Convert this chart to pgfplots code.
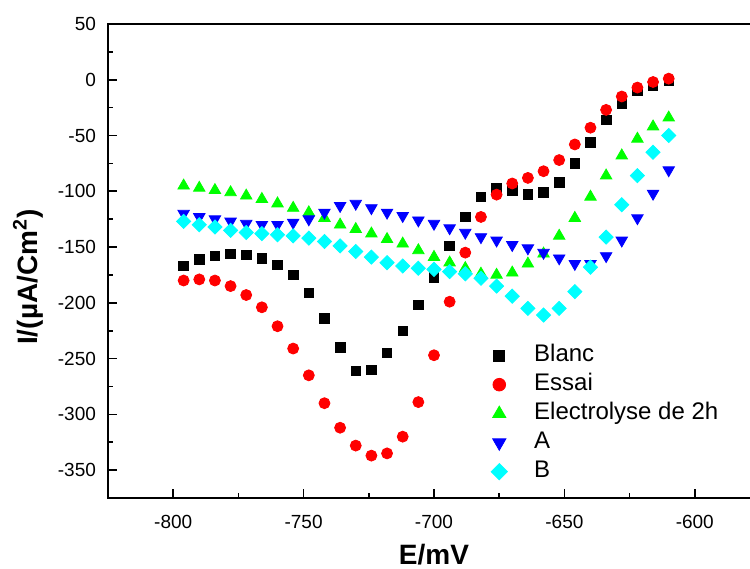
\documentclass[border=0pt]{standalone}
\usepackage{fontspec}
\setmainfont{Liberation Sans}
\usepackage{pgfplots}
\usepackage{pgfplotstable}
\pgfplotsset{compat=1.18}

\definecolor{cBlanc}{RGB}{0,0,0}
\definecolor{cEssai}{RGB}{255,0,0}
\definecolor{cElec}{RGB}{0,255,0}
\definecolor{cA}{RGB}{0,0,255}
\definecolor{cB}{RGB}{0,255,255}

% E (mV) vs I (uA/cm2)
\pgfplotstableread{
E     blanc essai elec  A     B
-796  -167  -180  -95   -120  -127
-790  -161  -179  -97   -123  -130
-784  -158  -180  -99   -125  -132
-778  -156  -185  -101  -127  -135
-772  -157  -193  -104  -129  -137
-766  -160  -204  -107  -130  -138
-760  -166  -221  -111  -130  -139
-754  -175  -241  -115  -128  -140
-748  -191  -265  -119  -125  -142
-742  -214  -290  -124  -119  -145
-736  -240  -312  -130  -113  -149
-730  -261  -328  -134  -111  -154
-724  -260  -337  -138  -115  -159
-718  -245  -335  -143  -119  -164
-712  -225  -320  -147  -122  -167
-706  -202  -289  -153  -126  -169
-700  -177  -247  -159  -129  -170
-694  -149  -199  -164  -133  -172
-688  -123  -155  -169  -137  -174
-682  -105  -123  -174  -141  -178
-676  -97   -103  -175  -144  -185
-670  -99   -93   -173  -148  -194
-664  -103  -88   -165  -151  -205
-658  -101  -82   -156  -155  -211
-652  -92   -72   -140  -160  -205
-646  -75   -58   -124  -165  -190
-640  -56   -43   -105  -165  -168
-634  -36   -27   -86   -158  -141
-628  -21   -15   -68   -144  -112
-622  -10   -7    -53   -124  -86
-616  -5    -2    -42   -102  -65
-610  -1    1     -34   -81   -50
}\polar

\begin{document}
\begin{tikzpicture}
\begin{axis}[
    at={(0,0)}, anchor=south west,
    scale only axis, width=326pt, height=237pt,
    xmin=-825, xmax=-575, ymin=-375, ymax=50,
    xtick={-800,-750,...,-600}, ytick={-350,-300,...,50},
    minor x tick num=1, minor y tick num=1,
    tick align=inside, tick pos=left,
    major tick length=4.5pt, minor tick length=2.5pt,
    axis line style={line width=0.9pt},
    every tick/.style={black, line width=0.8pt},
    /pgf/number format/assume math mode=true,
    ticklabel style={font=\fontsize{9.5}{10}\selectfont},
    xticklabel style={yshift=-5pt},
    yticklabel style={xshift=-2.5pt},
    xlabel={E/mV},
    ylabel={I/(µA/Cm\textsuperscript{2})},
    label style={font=\fontsize{14}{16}\selectfont\bfseries},
    xlabel style={at={(axis description cs:0.5,-0.1203)}, anchor=center},
    ylabel style={at={(axis description cs:-0.1227,0.466)}, anchor=center},
    legend style={draw=none, fill=none, inner sep=0pt,
      at={(0.5805,0.3317)}, anchor=north west,
      font=\fontsize{12}{13}\selectfont,
      nodes={text height=8.5pt, text depth=2.5pt, inner sep=1.75pt}},
    legend cell align=left,
    legend image code/.code={%
      \path (0pt,0pt) (21.5pt,0pt);
      \draw[#1, every mark/.append style={scale=1.15}] plot coordinates {(6pt,0pt)};},
  ]
  \addplot[only marks, mark=square*, mark size=2.4pt, color=cBlanc] table[x=E, y=blanc] {\polar};
  \addplot[only marks, mark=*, mark size=2.75pt, color=cEssai] table[x=E, y=essai] {\polar};
  \addplot[only marks, mark=triangle*, mark size=3.3pt, color=cElec] table[x=E, y=elec] {\polar};
  \addplot[only marks, mark=triangle*, mark size=3.3pt, mark options={rotate=180}, color=cA] table[x=E, y=A] {\polar};
  \addplot[only marks, mark=square*, mark size=2.5pt, mark options={rotate=45}, color=cB] table[x=E, y=B] {\polar};
  \legend{Blanc, Essai, Electrolyse de 2h, A, B}
\end{axis}
\pgfresetboundingbox
\useasboundingbox (-54pt,-35pt) rectangle (321pt,249pt);
\end{tikzpicture}
\end{document}
